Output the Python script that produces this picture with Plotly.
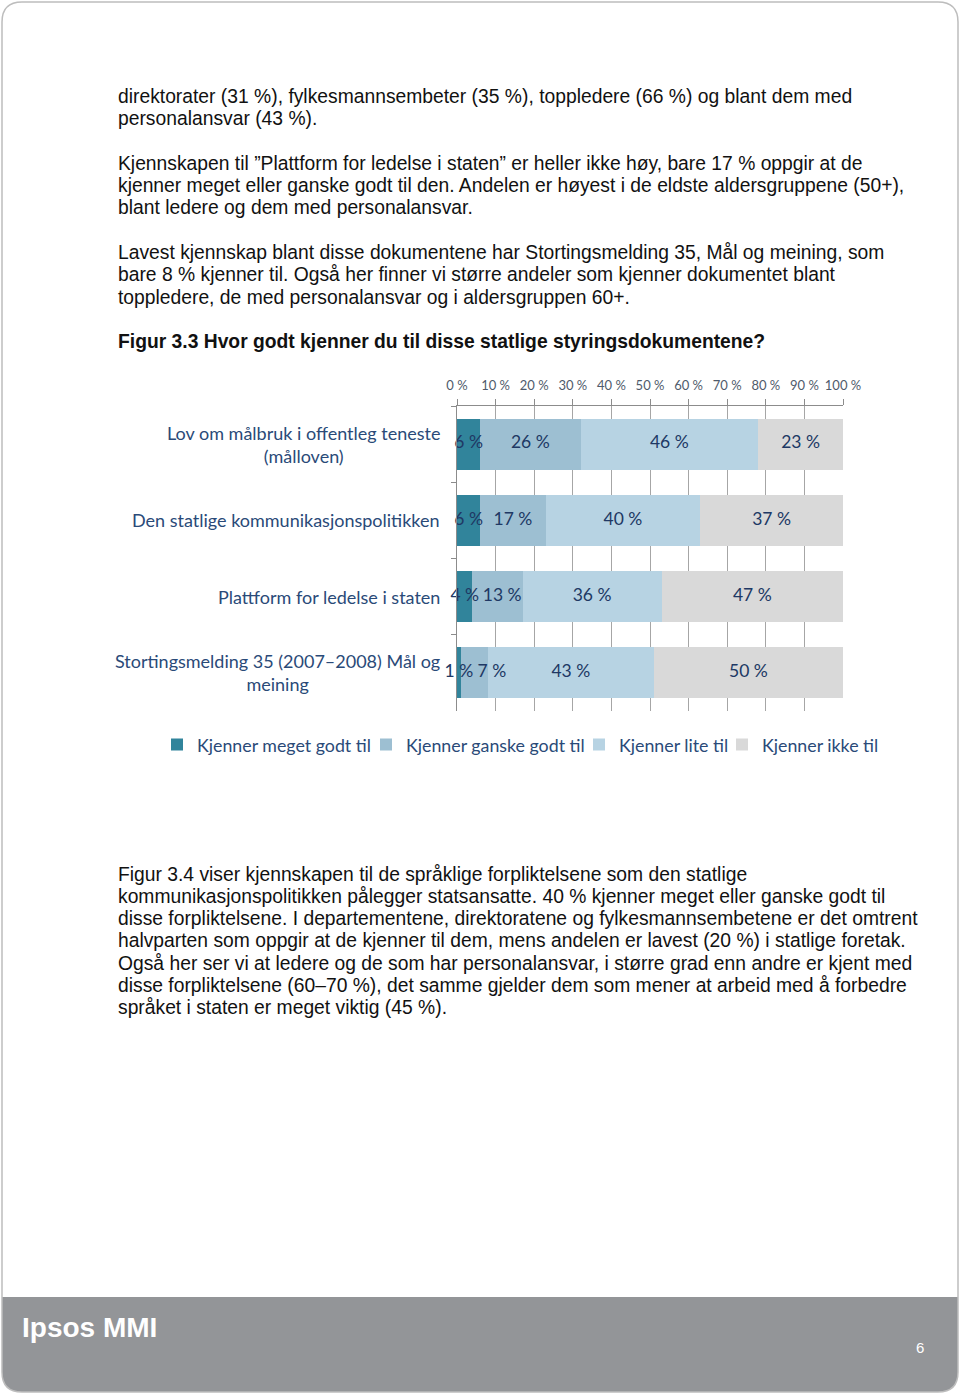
import plotly.graph_objects as go

W, H = 960, 1395

categories = [
    "Lov om målbruk i offentleg teneste<br>(målloven)",
    "Den statlige kommunikasjonspolitikken",
    "Plattform for ledelse i staten",
    "Stortingsmelding 35 (2007–2008) Mål og<br>meining",
]
series_names = ["Kjenner meget godt til", "Kjenner ganske godt til", "Kjenner lite til", "Kjenner ikke til"]
meget_godt = [6, 6, 4, 1]
ganske_godt = [26, 17, 13, 7]
lite = [46, 40, 36, 43]
ikke = [23, 37, 47, 50]
tick_vals = [0, 10, 20, 30, 40, 50, 60, 70, 80, 90, 100]
tick_text = [f"{v} %" for v in tick_vals]

colors = ["#31849B", "#9DBFD2", "#B7D3E3", "#D9D9D9"]
series_vals = [meget_godt, ganske_godt, lite, ikke]

para_lines = [
    ("direktorater (31 %), fylkesmannsembeter (35 %), toppledere (66 %) og blant dem med", 97),
    ("personalansvar (43 %).", 119),
    ("Kjennskapen til ”Plattform for ledelse i staten” er heller ikke høy, bare 17 % oppgir at de", 163),
    ("kjenner meget eller ganske godt til den. Andelen er høyest i de eldste aldersgruppene (50+),", 185),
    ("blant ledere og dem med personalansvar.", 208),
    ("Lavest kjennskap blant disse dokumentene har Stortingsmelding 35, Mål og meining, som", 253),
    ("bare 8 % kjenner til. Også her finner vi større andeler som kjenner dokumentet blant", 275),
    ("toppledere, de med personalansvar og i aldersgruppen 60+.", 297),
    ("<b>Figur 3.3 Hvor godt kjenner du til disse statlige styringsdokumentene?</b>", 341),
    ("Figur 3.4 viser kjennskapen til de språklige forpliktelsene som den statlige", 874),
    ("kommunikasjonspolitikken pålegger statsansatte. 40 % kjenner meget eller ganske godt til", 896),
    ("disse forpliktelsene. I departementene, direktoratene og fylkesmannsembetene er det omtrent", 918),
    ("halvparten som oppgir at de kjenner til dem, mens andelen er lavest (20 %) i statlige foretak.", 940),
    ("Også her ser vi at ledere og de som har personalansvar, i større grad enn andre er kjent med", 963),
    ("disse forpliktelsene (60–70 %), det samme gjelder dem som mener at arbeid med å forbedre", 985),
    ("språket i staten er meget viktig (45 %).", 1007),
]

LABEL_COLOR = "#2A4A78"
VALUE_COLOR = "#203864"

X0_PX, X1_PX = 457, 843          # plot area left/right in pixels
PX_PER_PCT = (X1_PX - X0_PX) / 100.0
CHAR_PX = 9.0                    # approx. width of one label character
LABEL_GAP_PX = 6


def px(x):
    return x / W


def py(y):
    return 1 - y / H


fig = go.Figure()
legend_ids = ["legend", "legend2", "legend3", "legend4"]
for name, vals, col, lid in zip(series_names, series_vals, colors, legend_ids):
    fig.add_trace(go.Bar(
        y=categories, x=vals, name=name, orientation="h",
        marker=dict(color=col, line=dict(width=0)),
        legend=lid, hoverinfo="x+name",
    ))

# value labels drawn on top of all bars, centred in each visible segment,
# nudged right when they would collide with the previous label
lab_x, lab_y, lab_t = [], [], []
for i, cat in enumerate(categories):
    start = 0
    prev_right = None
    for vals in series_vals:
        v = vals[i]
        end = start + v
        txt = f"{v} %"
        half = len(txt) * CHAR_PX / 2 / PX_PER_PCT
        centre = (start + min(end, 100)) / 2
        if prev_right is not None:
            min_centre = prev_right + LABEL_GAP_PX / PX_PER_PCT + half
            centre = max(centre, min_centre)
        prev_right = centre + half
        lab_x.append(centre)
        lab_y.append(cat)
        lab_t.append(txt)
        start = end
fig.add_trace(go.Scatter(
    x=lab_x, y=lab_y, text=lab_t, mode="text", showlegend=False,
    textfont=dict(family="Lato", size=17.5, color=VALUE_COLOR),
    cliponaxis=False, hoverinfo="skip",
))

annotations = []
for txt, y in para_lines:
    annotations.append(dict(
        text=txt, x=px(116), y=py(y), xref="paper", yref="paper",
        xanchor="left", yanchor="middle", showarrow=False,
        font=dict(family="Liberation Sans", size=19.3, color="#111111"),
    ))

for c in categories:
    annotations.append(dict(
        text=c, x=px(442), y=c, xref="paper", yref="y",
        xanchor="right", yanchor="middle", align="center", showarrow=False,
        font=dict(family="Lato", size=18, color=LABEL_COLOR),
    ))

annotations.append(dict(
    text="<b>Ipsos MMI</b>", x=px(20), y=py(1327), xref="paper", yref="paper",
    xanchor="left", yanchor="middle", showarrow=False,
    font=dict(family="Liberation Sans", size=28, color="white"),
))
annotations.append(dict(
    text="6", x=px(920), y=py(1347), xref="paper", yref="paper",
    xanchor="center", yanchor="middle", showarrow=False,
    font=dict(family="Liberation Sans", size=15, color="white"),
))

r = 20
border = (f"M {px(2)},{py(2+r)} Q {px(2)},{py(2)} {px(2+r)},{py(2)} "
          f"L {px(958-r)},{py(2)} Q {px(958)},{py(2)} {px(958)},{py(2+r)} "
          f"L {px(958)},{py(1392-r)} Q {px(958)},{py(1392)} {px(958-r)},{py(1392)} "
          f"L {px(2+r)},{py(1392)} Q {px(2)},{py(1392)} {px(2)},{py(1392-r)} Z")
footer = (f"M {px(2)},{py(1297)} L {px(958)},{py(1297)} "
          f"L {px(958)},{py(1392-r)} Q {px(958)},{py(1392)} {px(958-r)},{py(1392)} "
          f"L {px(2+r)},{py(1392)} Q {px(2)},{py(1392)} {px(2)},{py(1392-r)} Z")

shapes = [
    dict(type="path", path=footer, xref="paper", yref="paper",
         fillcolor="#939598", line=dict(width=0), layer="below"),
    dict(type="path", path=border, xref="paper", yref="paper",
         fillcolor="rgba(0,0,0,0)", line=dict(color="#BDBDBD", width=1.5), layer="below"),
]

legend_common = dict(orientation="h", yanchor="middle", xanchor="left",
                     font=dict(family="Lato", size=17.8, color=LABEL_COLOR),
                     itemwidth=30, bgcolor="rgba(0,0,0,0)", borderwidth=0)
legend_x = [157, 366, 579, 722]
legend_layout = {}
for lid, lx in zip(legend_ids, legend_x):
    legend_layout[lid] = dict(legend_common, x=px(lx), y=py(745))

fig.update_layout(
    width=W, height=H,
    margin=dict(l=0, r=0, t=0, b=0, pad=0, autoexpand=False),
    paper_bgcolor="white", plot_bgcolor="white",
    barmode="stack", bargap=0.33,
    showlegend=True,
    xaxis=dict(domain=[px(X0_PX), px(X1_PX)], range=[0, 100], side="top",
               tickvals=tick_vals, ticktext=tick_text,
               tickfont=dict(family="Lato", size=13, color="#4F5B6B"),
               ticks="outside", ticklen=6, tickcolor="#8C8C8C", ticklabelstandoff=4,
               showline=True, linecolor="#8C8C8C", linewidth=1,
               showgrid=True, gridcolor="#A6A6A6", gridwidth=1, zeroline=False,
               automargin=False, fixedrange=True),
    yaxis=dict(domain=[py(711), py(406)], categoryorder="array", categoryarray=categories,
               autorange="reversed", showticklabels=False,
               ticks="outside", ticklen=5, tickcolor="#8C8C8C", tickson="boundaries",
               showline=True, linecolor="#8C8C8C", linewidth=1, showgrid=False,
               automargin=False, fixedrange=True),
    annotations=annotations,
    shapes=shapes,
    **legend_layout,
)

fig.write_html(
    "out.html",
    config={"displayModeBar": False},
    post_script="document.body.style.margin='0';document.body.style.overflow='hidden';",
)
